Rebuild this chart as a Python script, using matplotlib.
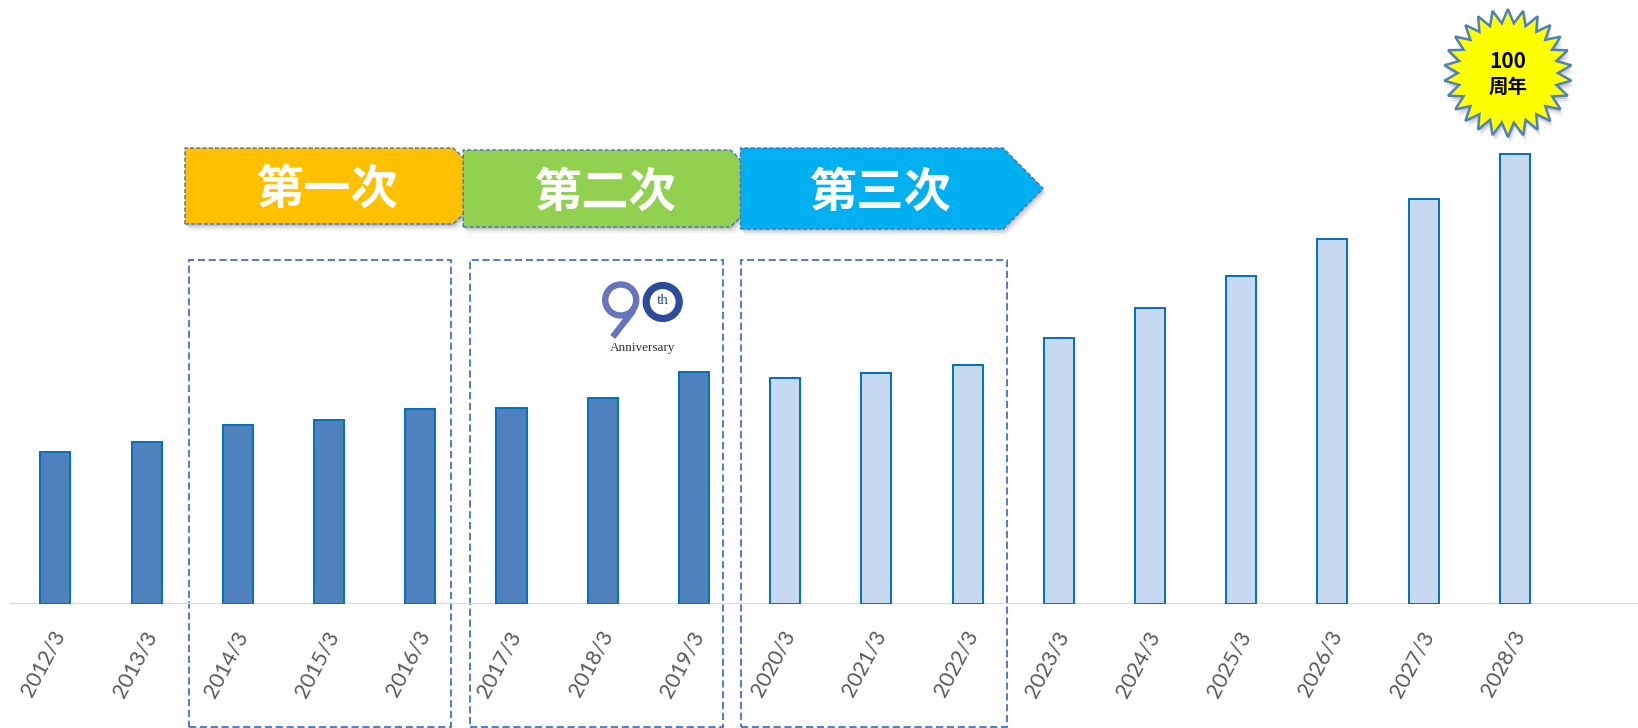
import matplotlib.pyplot as plt
import numpy as np
from matplotlib.patches import Polygon, Rectangle, Ellipse

# 年度ラベルと棒の高さ（画像から読み取り、任意単位）
years = ['2012/3', '2013/3', '2014/3', '2015/3', '2016/3', '2017/3', '2018/3', '2019/3',
         '2020/3', '2021/3', '2022/3', '2023/3', '2024/3', '2025/3', '2026/3', '2027/3', '2028/3']
values = [152, 162, 179, 184, 195, 196, 206, 232, 226, 231, 239, 266, 296, 328, 365, 405, 450]
n_actual = 8  # 2012/3〜2019/3 は実績（濃い色）

phase_names = ['第一次', '第二次', '第三次']
phase_ranges = [(2, 4), (5, 7), (8, 10)]
phase_colors = ['#FFC000', '#92D050', '#00B0F0']

CJK = ['Noto Sans CJK JP', 'DejaVu Sans']

W, H = 1638, 728
fig = plt.figure(figsize=(W / 100, H / 100), dpi=100)
ax = fig.add_axes([10 / W, 124 / H, 1628 / W, 604 / H])
ax.set_xlim(-0.498, 17.35)
ax.set_ylim(0, 604)
ax.axis('off')
PX = 1 / 91.2  # x方向 1px あたりのデータ単位

x = np.arange(len(years))
face = ['#4F81BD' if i < n_actual else '#C6D9F1' for i in x]
ax.bar(x, values, width=30 * PX, color=face, edgecolor='#0070C0', linewidth=1.4, zorder=3)
ax.axhline(0, color='#D9D9D9', linewidth=1.6, zorder=2)

# 年度ラベル
for i, lab in enumerate(years):
    ax.text(i + 5 * PX, -28, lab, rotation=62, rotation_mode='anchor', ha='right', va='center',
            fontsize=15.5, color='#595959', family='Lato', clip_on=False)

# 点線の枠
box_pad = [(0.535, 0.34), (0.454, 0.32), (0.48, 0.43)]
for (a, b), (pl, pr) in zip(phase_ranges, box_pad):
    ax.add_patch(Rectangle((a - pl, -123), (b + pr) - (a - pl), 467, fill=False,
                           edgecolor='#4472C4', linewidth=1.3, linestyle=(0, (4, 2)),
                           clip_on=False, zorder=1))

# 矢印（五角形）
arrow_geo = [(0.58, 0.36, 380, 456), (0.53, 0.40, 377, 454), (0.49, 0.39, 375, 456)]
tip = 40 * PX
for (a, b), name, col, (pl, pr, y0, y1) in zip(phase_ranges, phase_names, phase_colors, arrow_geo):
    xl, xs = a - pl, b + pr
    ym = (y0 + y1) / 2
    pts = [(xl, y0), (xs, y0), (xs + tip, ym), (xs, y1), (xl, y1)]
    for k, al in zip([6, 4, 2], [0.06, 0.08, 0.12]):
        sh = [(px + k * PX * 0.6, py - k) for px, py in pts]
        ax.add_patch(Polygon(sh, closed=True, facecolor='#000000', alpha=al, edgecolor='none', zorder=4))
    ax.add_patch(Polygon(pts, closed=True, facecolor=col, edgecolor='#4472C4',
                         linewidth=1.0, linestyle=(0, (3, 1.5)), zorder=5))
    ax.text((xl + xs) / 2 + 8 * PX, ym - 4, name, ha='center', va='center', color='white',
            fontsize=34, fontweight='bold', family=CJK, zorder=6)

# 100周年の星
cx, cy = len(years) - 1 - 7 * PX, 531
n_pts = 26
ang = np.linspace(np.pi / 2, np.pi / 2 + 2 * np.pi, 2 * n_pts, endpoint=False)
rad = np.where(np.arange(2 * n_pts) % 2 == 0, 64, 50)
star = np.column_stack([cx + rad * np.cos(ang) * PX, cy + rad * np.sin(ang)])
for k, al in zip([7, 5, 3], [0.05, 0.07, 0.1]):
    ax.add_patch(Polygon(star + [k * PX * 0.4, -k], closed=True, facecolor='#000000', alpha=al,
                         edgecolor='none', clip_on=False, zorder=4))
ax.add_patch(Polygon(star, closed=True, facecolor='#FFFF00', edgecolor='#4F81BD',
                     linewidth=1.8, clip_on=False, zorder=5))
ax.text(cx, cy + 11, '100', ha='center', va='center', fontsize=15, fontweight='bold',
        family=CJK, zorder=6)
ax.text(cx, cy - 14, '周年', ha='center', va='center', fontsize=14, fontweight='bold',
        family=CJK, zorder=6)

# 90th Anniversary ロゴ（2019/3 の棒の上）
lx, ly = 6 + 18 * PX, 304
ax.add_patch(Ellipse((lx, ly), 2 * 15.5 * PX, 31, fill=False, edgecolor='#6674BE',
                     linewidth=4.6, zorder=5))
ax.plot([lx + 13 * PX, lx - 8 * PX], [ly - 10, ly - 37], color='#6674BE', linewidth=4.6,
        solid_capstyle='butt', zorder=5)
ax.add_patch(Ellipse((lx + 42 * PX, ly - 2), 2 * 16.5 * PX, 33, fill=False, edgecolor='#2B4C9B',
                     linewidth=5.2, zorder=5))
ax.text(lx + 42 * PX, ly, 'th', ha='center', va='center', fontsize=11, color='#2B4C9B',
        family='Liberation Serif', zorder=6)
ax.text(lx + 22 * PX, ly - 48, 'Anniversary', ha='center', va='center', fontsize=9.5,
        color='#333333', family='Liberation Serif', zorder=6)

fig.savefig('out.png', dpi=100)
